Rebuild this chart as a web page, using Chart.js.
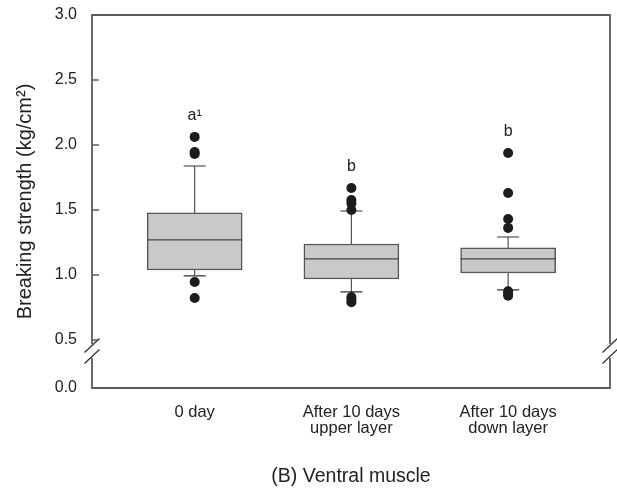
<!DOCTYPE html>
<html>
<head>
<meta charset="utf-8">
<script src="https://cdn.jsdelivr.net/npm/chart.js@4.4.0/dist/chart.umd.min.js"></script>
<style>
html, body { margin: 0; padding: 0; background: #fff; }
</style>
</head>
<body>
<canvas id="myChart" width="617" height="492"></canvas>
<script>
// box statistics per group (kg/cm2)
let groups = ["0 day", ["After 10 days", "upper layer"], ["After 10 days", "down layer"]]
let q1 = [1.038, 0.969, 1.015]
let median = [1.269, 1.123, 1.123]
let q3 = [1.477, 1.238, 1.208]
let whisker_low = [0.992, 0.869, 0.885]
let whisker_high = [1.838, 1.492, 1.292]
let outliers = [
    [2.062, 1.946, 1.93, 0.946, 0.823],
    [1.669, 1.577, 1.55, 1.50, 0.83, 0.81, 0.79],
    [1.938, 1.631, 1.431, 1.362, 0.875, 0.855, 0.84]
]
let sig_letters = ["a\u00b9", "b", "b"]
let y_tick_labels = [0.0, 0.5, 1.0, 1.5, 2.0, 2.5, 3.0]

// broken axis: 0.0 is drawn just below the break, right under 0.5
let axis_zero = 0.13
let break_at = 0.415

const FONT = "'Liberation Sans', Arial, sans-serif"
const INK = "#222"
const FRAME = "#5c5c5c"

function axisPos(v) { return v === 0 ? axis_zero : v }

let box_data = groups.map((g, i) => ({ x: i + 1, y: [q1[i], q3[i]] }))
let outlier_data = []
outliers.forEach((list, i) => list.forEach(v => outlier_data.push({ x: i + 1, y: v })))

// median, whiskers and caps on top of the boxes
const boxParts = {
    id: "boxParts",
    afterDatasetDraw(chart, args) {
        if (args.index !== 1) return
        const ctx = chart.ctx
        const xs = chart.scales.x, ys = chart.scales.y
        const meta = chart.getDatasetMeta(1)
        ctx.save()
        groups.forEach((g, i) => {
            const bar = meta.data[i]
            const cx = xs.getPixelForValue(i + 1)
            const half = bar.width / 2
            ctx.strokeStyle = "#444"
            ctx.lineWidth = 1.2
            ctx.beginPath()
            ctx.moveTo(cx - half, ys.getPixelForValue(median[i]))
            ctx.lineTo(cx + half, ys.getPixelForValue(median[i]))
            ctx.stroke()

            ctx.strokeStyle = "#555"
            ctx.lineWidth = 1.2
            ctx.beginPath()
            ctx.moveTo(cx, ys.getPixelForValue(q3[i]))
            ctx.lineTo(cx, ys.getPixelForValue(whisker_high[i]))
            ctx.moveTo(cx, ys.getPixelForValue(q1[i]))
            ctx.lineTo(cx, ys.getPixelForValue(whisker_low[i]))
            ctx.stroke()

            ctx.strokeStyle = "#333"
            ctx.beginPath()
            ctx.moveTo(cx - 11, ys.getPixelForValue(whisker_high[i]))
            ctx.lineTo(cx + 11, ys.getPixelForValue(whisker_high[i]))
            ctx.moveTo(cx - 11, ys.getPixelForValue(whisker_low[i]))
            ctx.lineTo(cx + 11, ys.getPixelForValue(whisker_low[i]))
            ctx.stroke()
        })
        ctx.restore()
    }
}

// frame with the axis break, inward ticks and group letters
const framePlugin = {
    id: "framePlugin",
    afterDraw(chart) {
        const ctx = chart.ctx
        const a = chart.chartArea
        const xs = chart.scales.x, ys = chart.scales.y
        const by = ys.getPixelForValue(break_at)
        ctx.save()
        ctx.strokeStyle = FRAME
        ctx.lineWidth = 1.8
        ctx.beginPath()
        ctx.moveTo(a.left, by - 7)
        ctx.lineTo(a.left, a.top)
        ctx.lineTo(a.right, a.top)
        ctx.lineTo(a.right, by - 7)
        ctx.moveTo(a.right, by + 7)
        ctx.lineTo(a.right, a.bottom)
        ctx.lineTo(a.left, a.bottom)
        ctx.lineTo(a.left, by + 7)
        ctx.stroke()

        // break slashes
        ctx.strokeStyle = "#333"
        ctx.lineWidth = 1.3
        ctx.beginPath()
        ;[a.left, a.right].forEach(x => {
            [by - 5.5, by + 5.5].forEach(y => {
                ctx.moveTo(x - 7.5, y + 7)
                ctx.lineTo(x + 7.5, y - 7)
            })
        })
        ctx.stroke()

        // inward tick marks
        ctx.strokeStyle = FRAME
        ctx.lineWidth = 1.5
        ctx.beginPath()
        ys.ticks.forEach(t => {
            const y = ys.getPixelForValue(t.value)
            ctx.moveTo(a.left, y)
            ctx.lineTo(a.left + 7, y)
        })
        ctx.stroke()

        // significance letters above the highest point of each group
        ctx.fillStyle = INK
        ctx.font = "16px " + FONT
        ctx.textAlign = "center"
        ctx.textBaseline = "alphabetic"
        sig_letters.forEach((s, i) => {
            const top = Math.max(...outliers[i])
            ctx.fillText(s, xs.getPixelForValue(i + 1), ys.getPixelForValue(top) - 17)
        })
        ctx.restore()
    }
}

const ctx = document.getElementById("myChart").getContext("2d")
const myChart = new Chart(ctx, {
    type: "bar",
    data: {
        datasets: [{
            type: "scatter",
            data: outlier_data,
            order: 0,
            pointRadius: 5,
            pointHoverRadius: 5,
            backgroundColor: "#1c1c1c",
            borderWidth: 0
        }, {
            type: "bar",
            data: box_data,
            order: 1,
            barThickness: 95,
            backgroundColor: "#c9c9cb",
            borderColor: "#555",
            borderWidth: 1.5,
            borderSkipped: false
        }]
    },
    options: {
        responsive: false,
        animation: false,
        layout: { padding: { top: 15, right: 7, left: 0, bottom: 0 } },
        plugins: {
            legend: { display: false },
            tooltip: { enabled: false },
            title: { display: false }
        },
        scales: {
            x: {
                type: "linear",
                min: 0.345,
                max: 3.65,
                offset: false,
                grid: { display: false, drawTicks: false },
                border: { display: false },
                afterBuildTicks: scale => { scale.ticks = groups.map((g, i) => ({ value: i + 1 })) },
                afterFit: scale => {
                    scale.height = 104
                    scale.paddingLeft = 0
                    scale.paddingRight = 0
                },
                ticks: {
                    autoSkip: false,
                    maxRotation: 0,
                    padding: 17,
                    color: INK,
                    font: { family: FONT, size: 16.5, lineHeight: 0.93 },
                    callback: (val) => groups[Math.round(val) - 1]
                },
                title: {
                    display: true,
                    text: "(B) Ventral muscle",
                    color: INK,
                    font: { family: FONT, size: 19.5 },
                    padding: { top: 0, bottom: 4 }
                }
            },
            y: {
                type: "linear",
                min: axis_zero,
                max: 3.0,
                grid: { display: false, drawTicks: false },
                border: { display: false },
                afterBuildTicks: scale => { scale.ticks = y_tick_labels.map(v => ({ value: axisPos(v) })) },
                afterFit: scale => {
                    scale.width = 92
                    scale.paddingTop = 0
                    scale.paddingBottom = 0
                },
                ticks: {
                    padding: 15,
                    color: INK,
                    font: { family: FONT, size: 16 },
                    callback: (val, idx) => y_tick_labels[idx].toFixed(1)
                },
                title: {
                    display: true,
                    text: "Breaking strength (kg/cm\u00b2)",
                    color: INK,
                    font: { family: FONT, size: 20 },
                    padding: { top: 13, bottom: 0 }
                }
            }
        }
    },
    plugins: [boxParts, framePlugin]
})
</script>
</body>
</html>
